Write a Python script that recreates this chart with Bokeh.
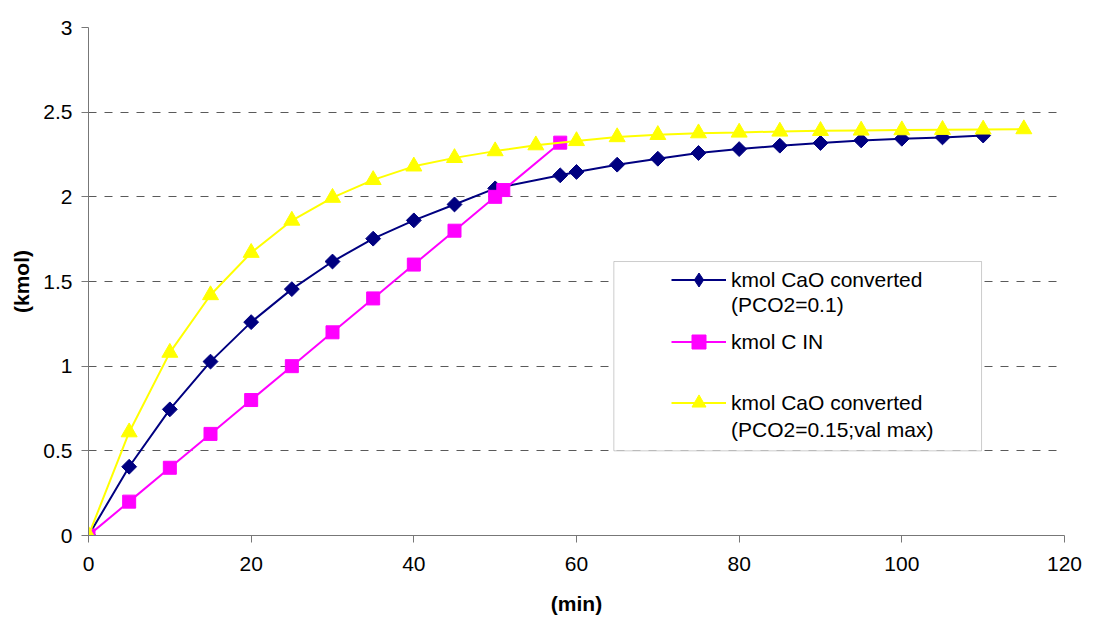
from bokeh.plotting import figure
from bokeh.models import (Range1d, Legend, LegendItem, BoxAnnotation, FixedTicker,
                          NumeralTickFormatter)
from bokeh.embed import file_html
from bokeh.resources import INLINE
import math

# ---------------- data ----------------
t_cao_01 = [0, 5, 10, 15, 20, 25, 30, 35, 40, 45, 50, 58, 60, 65, 70, 75, 80, 85, 90, 95, 100, 105, 110]
cao_01 = [0, 0.406, 0.745, 1.027, 1.26, 1.455, 1.618, 1.753, 1.861, 1.955, 2.05, 2.127, 2.147,
          2.19, 2.225, 2.259, 2.282, 2.302, 2.318, 2.333, 2.343, 2.351, 2.362]

t_c_in = [0, 5, 10, 15, 20, 25, 30, 35, 40, 45, 50, 51, 58]
c_in = [0, 0.2, 0.4, 0.6, 0.8, 1.0, 1.2, 1.4, 1.6, 1.8, 2.0, 2.04, 2.32]

t_cao_015 = [0, 5, 10, 15, 20, 25, 30, 35, 40, 45, 50, 55, 60, 65, 70, 75, 80, 85, 90, 95, 100, 105, 110, 115]
cao_015 = [0, 0.61, 1.08, 1.42, 1.67, 1.86, 1.995, 2.10, 2.18, 2.23, 2.27, 2.305, 2.33,
           2.353, 2.366, 2.376, 2.38, 2.386, 2.39, 2.392, 2.394, 2.396, 2.398, 2.40]

x_ticks = [0, 20, 40, 60, 80, 100, 120]
y_ticks = [0, 0.5, 1, 1.5, 2, 2.5, 3]

legend_lines = ["kmol CaO converted", "(PCO2=0.1)", "kmol C IN",
                "kmol CaO converted", "(PCO2=0.15;val max)"]
x_title = "(min)"
y_title = "(kmol)"

# ---------------- figure ----------------
FONT = "Liberation Sans"
BLUE, PINK, YELLOW = "#000080", "#FF00FF", "#FFFF00"

p = figure(width=1095, height=617, x_range=Range1d(0, 120), y_range=Range1d(0, 3),
           output_backend="svg", toolbar_location=None,
           min_border_left=88, min_border_right=31, min_border_top=27, min_border_bottom=80,
           background_fill_color="white", border_fill_color="white", outline_line_color=None)

p.xaxis.ticker = FixedTicker(ticks=x_ticks)
p.yaxis.ticker = FixedTicker(ticks=y_ticks)
p.yaxis.formatter = NumeralTickFormatter(format="0.[0]")
p.xaxis.formatter = NumeralTickFormatter(format="0")
for ax in (p.xaxis, p.yaxis):
    ax.axis_line_color = "#777777"
    ax.major_tick_line_color = "#777777"
    ax.minor_tick_line_color = None
    ax.major_tick_in = 0
    ax.major_tick_out = 7
    ax.major_label_text_font = FONT
    ax.major_label_text_font_size = "21px"
    ax.major_label_text_color = "black"
    ax.axis_label_text_font = FONT
    ax.axis_label_text_font_size = "21px"
    ax.axis_label_text_font_style = "bold"
    ax.axis_label_text_color = "black"
p.xaxis.axis_label = x_title
p.yaxis.axis_label = y_title
p.xaxis.major_label_standoff = 14
p.yaxis.major_label_standoff = 9
p.xaxis.axis_label_standoff = 18
p.yaxis.axis_label_standoff = 7

p.xgrid.grid_line_color = None
p.ygrid.grid_line_color = "#5a5a5a"
p.ygrid.grid_line_dash = "8 8"
p.ygrid.grid_line_width = 1

# series 1: blue diamonds
l1 = p.line(t_cao_01, cao_01, line_color=BLUE, line_width=2)
m1 = p.scatter(t_cao_01, cao_01, marker="square", angle=math.pi / 4, size=10.5,
               fill_color=BLUE, line_color=BLUE)
# legend glyph for series 1 (legend draws markers unrotated, so use a diamond; size 0 in the plot)
d1 = p.scatter(t_cao_01, cao_01, marker="diamond", size=0, fill_color=BLUE, line_color=BLUE)
# series 2: pink squares
l2 = p.line(t_c_in, c_in, line_color=PINK, line_width=2)
m2 = p.scatter(t_c_in, c_in, marker="square", size=13, fill_color=PINK, line_color=PINK)
# series 3: yellow triangles
l3 = p.line(t_cao_015, cao_015, line_color=YELLOW, line_width=2)
m3 = p.scatter(t_cao_015, cao_015, marker="triangle", size=16, fill_color=YELLOW, line_color=YELLOW)

# invisible renderer for the second text rows of the legend
blank = p.scatter(t_c_in, c_in, marker="circle", size=0, fill_alpha=0, line_alpha=0)

# legend frame
box = BoxAnnotation(left=64.59, right=109.8, bottom=0.5, top=1.618,
                    fill_color="white", fill_alpha=1.0, line_color="#555555", line_width=1)
p.add_layout(box)

# one legend per text row so that rows sit where they do in the reference
rows = [(legend_lines[0], [l1, d1], 238),
        (legend_lines[1], [blank], 213),
        (legend_lines[2], [l2, m2], 176),
        (legend_lines[3], [l3, m3], 115),
        (legend_lines[4], [blank], 88)]
for text, rends, ybot in rows:
    lg = Legend(items=[LegendItem(label=text, renderers=rends)],
                location=(583, ybot), padding=0, margin=0, border_line_color=None,
                background_fill_alpha=0, glyph_width=55, glyph_height=35,
                label_standoff=5, label_height=20,
                label_text_font=FONT, label_text_font_size="21px", label_text_color="black")
    p.add_layout(lg, "center")

open("out.html", "w").write(file_html(p, INLINE))
